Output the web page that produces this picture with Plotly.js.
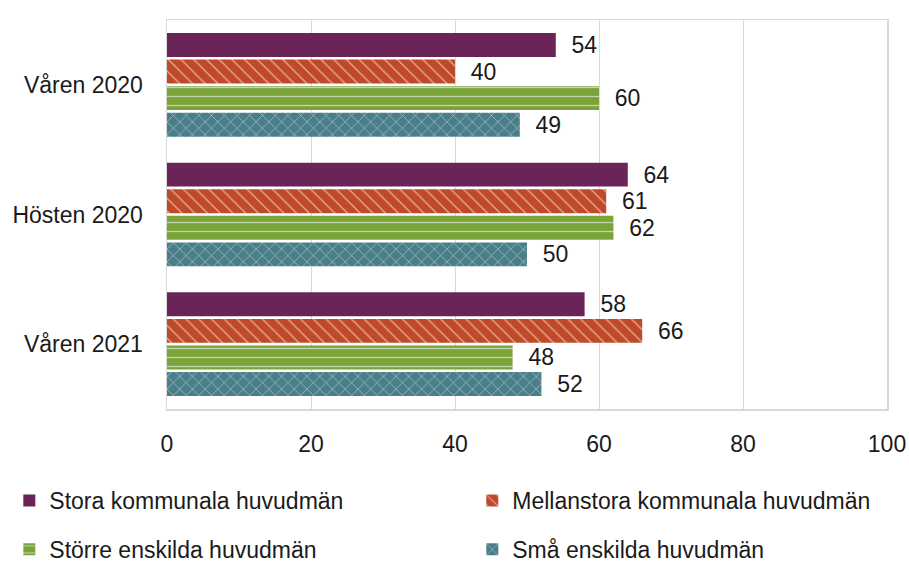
<!DOCTYPE html>
<html>
<head>
<meta charset="utf-8">
<script src="https://cdn.plot.ly/plotly-3.0.1.min.js"></script>
<style>
  html, body { margin: 0; padding: 0; background: #fff; }
  #chart { width: 909px; height: 565px; }
</style>
</head>
<body>
<div id="chart"></div>
<script>
    // Data
    const terms = ['Våren 2020', 'Hösten 2020', 'Våren 2021'];
    const seriesNames = [
        'Stora kommunala huvudmän',
        'Mellanstora kommunala huvudmän',
        'Större enskilda huvudmän',
        'Små enskilda huvudmän'
    ];
    const storaKommunala = [54, 64, 58];
    const mellanstoraKommunala = [40, 61, 66];
    const storreEnskilda = [60, 62, 48];
    const smaEnskilda = [49, 50, 52];
    const xTicks = [0, 20, 40, 60, 80, 100];

    const fontFamily = '"Liberation Sans", Arial, sans-serif';
    const textColor = '#1a1a1a';

    function makeTrace(values, name, color, shape, legendId, group) {
        return {
            type: 'bar',
            orientation: 'h',
            y: terms,
            x: values,
            name: name,
            legend: legendId,
            legendgroup: group,
            text: values.map(v => '  ' + v),
            textposition: 'outside',
            constraintext: 'none',
            cliponaxis: false,
            textfont: { family: fontFamily, size: 23, color: textColor },
            marker: {
                color: color,
                line: { width: 0 },
                pattern: shape ? {
                    shape: shape,
                    fgcolor: 'rgba(255,255,255,0.55)',
                    bgcolor: color,
                    size: 9,
                    solidity: 0.14
                } : undefined
            },
            hoverinfo: 'x+name'
        };
    }

    const traces = [
        makeTrace(storaKommunala, seriesNames[0], '#6b2458', '', 'legend', 'a'),
        makeTrace(mellanstoraKommunala, seriesNames[1], '#c04a28', '\\', 'legend2', 'b'),
        makeTrace(storreEnskilda, seriesNames[2], '#7aa33a', '-', 'legend', 'c'),
        makeTrace(smaEnskilda, seriesNames[3], '#4a7f8a', 'x', 'legend2', 'd')
    ];

    const legendBase = {
        orientation: 'v',
        xanchor: 'left',
        yanchor: 'top',
        font: { family: fontFamily, size: 23, color: textColor },
        bgcolor: 'rgba(0,0,0,0)',
        borderwidth: 0,
        tracegroupgap: 16,
        itemclick: false
    };

    const layout = {
        width: 909,
        height: 565,
        margin: { l: 167, r: 22, t: 20, b: 156, autoexpand: false },
        paper_bgcolor: '#ffffff',
        plot_bgcolor: '#ffffff',
        font: { family: fontFamily, size: 23, color: textColor },
        barmode: 'group',
        bargap: 0.18,
        bargroupgap: 0.1,
        xaxis: {
            range: [0, 100],
            tickvals: xTicks,
            ticktext: xTicks.map(String),
            showgrid: true,
            gridcolor: '#d9d9d9',
            gridwidth: 1,
            zeroline: false,
            showline: true,
            linecolor: '#d9d9d9',
            linewidth: 1.5,
            mirror: true,
            ticks: '',
            ticklabelstandoff: 14,
            tickfont: { family: fontFamily, size: 23, color: textColor },
            fixedrange: true
        },
        yaxis: {
            type: 'category',
            autorange: 'reversed',
            showgrid: false,
            zeroline: false,
            showline: true,
            linecolor: '#d9d9d9',
            linewidth: 1.5,
            mirror: true,
            ticks: '',
            ticklabelstandoff: 18,
            tickfont: { family: fontFamily, size: 23, color: textColor },
            fixedrange: true
        },
        legend: Object.assign({}, legendBase, { x: -0.219, y: -0.18 }),
        legend2: Object.assign({}, legendBase, { x: 0.424, y: -0.18 }),
        showlegend: true
    };

    Plotly.newPlot('chart', traces, layout, { displayModeBar: false, staticPlot: true });
</script>
</body>
</html>
